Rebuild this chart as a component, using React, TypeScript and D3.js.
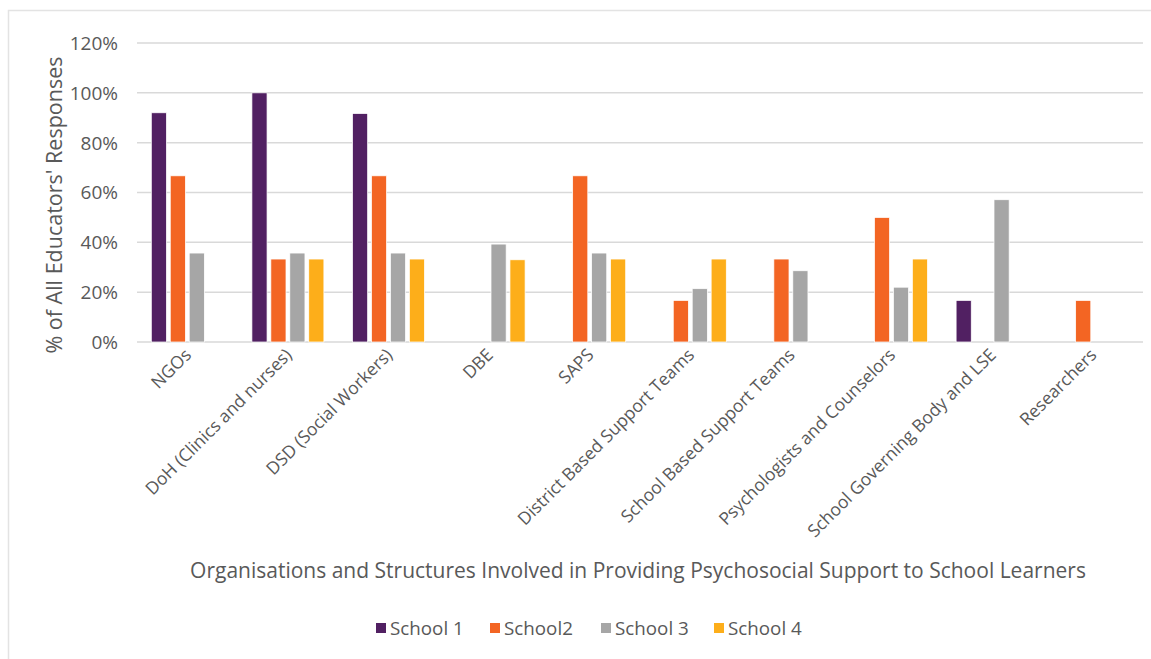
import React from "react";
import * as d3 from "d3";

const categories = [
  "NGOs",
  "DoH (Clinics and nurses)",
  "DSD (Social Workers)",
  "DBE",
  "SAPS",
  "District Based Support Teams",
  "School Based Support Teams",
  "Psychologists and Counselors",
  "School Governing Body and LSE",
  "Researchers",
];
const seriesNames = ["School 1", "School2", "School 3", "School 4"];
const school1 = [92, 100, 91.7, 0, 0, 0, 0, 0, 16.7, 0];
const school2 = [66.7, 33.3, 66.7, 0, 66.7, 16.7, 33.3, 50, 0, 16.7];
const school3 = [35.7, 35.7, 35.7, 39.3, 35.7, 21.4, 28.6, 22, 57.1, 0];
const school4 = [0, 33.3, 33.3, 33, 33.3, 33.3, 0, 33.3, 0, 0];
const yTicks = [0, 20, 40, 60, 80, 100, 120];
const colors = ["#512062", "#F36523", "#A6A6A6", "#FDAE1A"];

const W = 1151;
const H = 659;
const FONT = "'Open Sans', sans-serif";
const TEXT = "#595959";

export default function App() {
  const series = [school1, school2, school3, school4];
  const x0 = d3.scaleBand<string>().domain(categories).range([137, 1143]);
  const x1 = d3
    .scaleBand<number>()
    .domain([0, 1, 2, 3])
    .range([0, 72])
    .paddingInner(0.2);
  const y = d3.scaleLinear().domain([0, 120]).range([342, 43]);
  const groupOffset = (x0.bandwidth() - 72) / 2;

  const legendX = [376, 490, 601, 714];

  return (
    <div style={{ position: "absolute", left: 0, top: 0 }}>
      <svg width={W} height={H} style={{ display: "block", background: "#fff" }}>
        <rect x={8.5} y={10.5} width={1160} height={670} fill="#fff" stroke="#e3e3e3" strokeWidth={1.5} />
        {yTicks.map((t) => (
          <g key={t}>
            <line x1={137} x2={1143} y1={y(t)} y2={y(t)} stroke="#d9d9d9" strokeWidth={1.5} />
            <text
              x={118}
              y={y(t)}
              dy="0.36em"
              textAnchor="end"
              fontFamily={FONT}
              fontSize={19}
              fill={TEXT}
            >
              {t}%
            </text>
          </g>
        ))}
        {categories.map((c, ci) => (
          <g key={c} transform={`translate(${(x0(c) ?? 0) + groupOffset},0)`}>
            {series.map((s, si) =>
              s[ci] > 0 ? (
                <rect
                  key={si}
                  x={x1(si)}
                  y={y(s[ci])}
                  width={x1.bandwidth()}
                  height={y(0) - y(s[ci])}
                  fill={colors[si]}
                  stroke="#fff"
                  strokeWidth={0.75}
                />
              ) : null
            )}
          </g>
        ))}
        {categories.map((c) => {
          const cx = (x0(c) ?? 0) + x0.bandwidth() / 2 + 5;
          return (
            <text
              key={c}
              transform={`translate(${cx},${356}) rotate(-45)`}
              textAnchor="end"
              fontFamily={FONT}
              fontSize={17.5}
              fill={TEXT}
            >
              {c}
            </text>
          );
        })}
        <text
          transform={`translate(62,${205}) rotate(-90)`}
          textAnchor="middle"
          fontFamily={FONT}
          fontSize={21.5}
          fill={TEXT}
        >
          % of All Educators' Responses
        </text>
        <text
          x={638}
          y={578}
          textAnchor="middle"
          fontFamily={FONT}
          fontSize={21}
          fill={TEXT}
        >
          Organisations and Structures Involved in Providing Psychosocial Support to School Learners
        </text>
        {seriesNames.map((n, i) => (
          <g key={n}>
            <rect x={legendX[i]} y={623} width={10} height={10} fill={colors[i]} />
            <text x={legendX[i] + 14} y={635} fontFamily={FONT} fontSize={18.8} fill={TEXT}>
              {n}
            </text>
          </g>
        ))}
      </svg>
    </div>
  );
}
